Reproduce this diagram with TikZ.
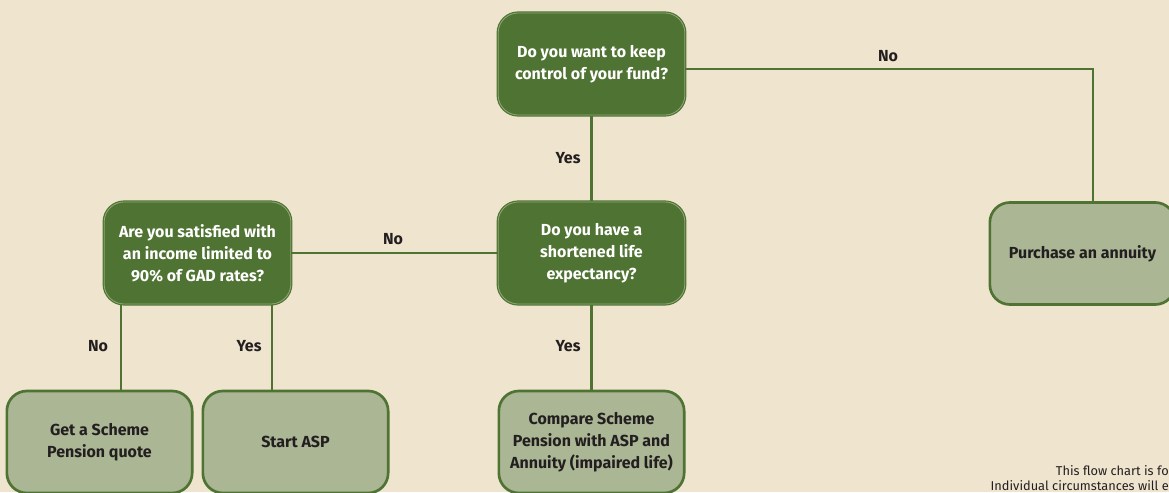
\documentclass[tikz,border=0pt]{standalone}
\usepackage{fontspec}
\setmainfont{Fira Sans}
\definecolor{bgcream}{HTML}{EFE4CE}
\definecolor{darkleaf}{HTML}{4F7332}
\definecolor{paleleaf}{HTML}{AAB694}
\definecolor{rimleaf}{HTML}{8FA877}
\definecolor{inktext}{HTML}{231F20}
\tikzset{
  question/.style={rectangle,rounded corners=15pt,fill=darkleaf,draw=darkleaf,double=rimleaf,
    double distance=0.6pt,line width=0.9pt,minimum width=140pt,minimum height=76.5pt,
    align=center,text=white,font=\bfseries\fontsize{12}{16.5}\selectfont},
  outcome/.style={rectangle,rounded corners=15pt,fill=paleleaf,draw=darkleaf,line width=2pt,
    minimum width=139pt,minimum height=76.5pt,align=center,text=inktext,
    font=\bfseries\fontsize{12}{16.5}\selectfont},
  answer/.style={text=inktext,font=\bfseries\fontsize{12}{14}\selectfont},
  link/.style={draw=darkleaf,line width=2.2pt}
}
\begin{document}
\begin{tikzpicture}[x=0.75pt,y=-0.75pt]
  \fill[bgcream] (0,0) rectangle (1169,492);
  \useasboundingbox (0,0) rectangle (1169,492);

  % questions
  \node[question] (keepfund) at (591.5,64) {Do you want to keep\\control of your fund?};
  \node[question] (shortlife) at (591.5,253) {Do you have a\\shortened life\\expectancy?};
  \node[question] (gadrates) at (197.5,253) {Are you satisfied with\\an income limited to\\90\% of GAD rates?};

  % outcomes
  \node[outcome] (annuity) at (1082.5,253.5) {Purchase an annuity};
  \node[outcome] (schemequote) at (99.5,442) {Get a Scheme\\Pension quote};
  \node[outcome] (startasp) at (295.5,442) {Start ASP};
  \node[outcome] (compare) at (591.5,442) {Compare Scheme\\Pension with ASP and\\Annuity (impaired life)};

  % connectors
  \coordinate (turn) at (1093,69);
  \draw[link] (keepfund.east |- turn) -- (turn) -- (turn |- annuity.north);
  \draw[link] (keepfund) -- (shortlife);
  \draw[link] (shortlife) -- (gadrates);
  \draw[link] (shortlife) -- (compare);
  \coordinate (noleg) at (121,0);
  \coordinate (yesleg) at (272,0);
  \draw[link] (gadrates.south -| noleg) -- (schemequote.north -| noleg);
  \draw[link] (gadrates.south -| yesleg) -- (startasp.north -| yesleg);

  % answers
  \node[answer] (nofund) at (888,56) {No};
  \node[answer] (yesfund) at (568,158) {Yes};
  \node[answer] (nolife) at (393,239) {No};
  \node[answer] (nogad) at (98,346) {No};
  \node[answer] (yesgad) at (249,346) {Yes};
  \node[answer] (yeslife) at (568,346) {Yes};

  % footnote
  \node[anchor=base east,text=inktext,font=\fontsize{9.6}{11}\selectfont,inner sep=0pt] (noteone) at (1169,475) {This flow chart is fo};
  \node[anchor=base east,text=inktext,font=\fontsize{9.6}{11}\selectfont,inner sep=0pt] (notetwo) at (1169,490) {Individual circumstances will e};
\end{tikzpicture}
\end{document}
